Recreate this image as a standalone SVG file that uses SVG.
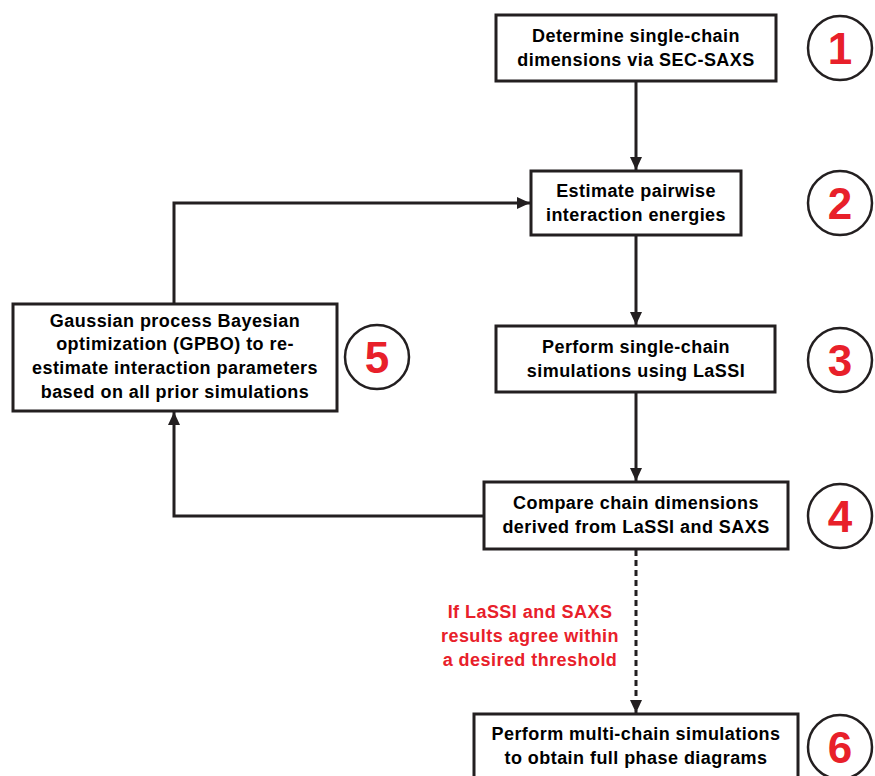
<svg xmlns="http://www.w3.org/2000/svg" width="875" height="776" viewBox="0 0 875 776">
<style>
.box{fill:#fff;stroke:#231f20;stroke-width:3}
.t{font-family:"Liberation Sans",Arial,sans-serif;font-weight:bold;font-size:18px;letter-spacing:0.45px;fill:#000;text-anchor:middle}
.red{fill:#e8202a}
.num{font-family:"Liberation Sans",Arial,sans-serif;font-weight:bold;font-size:44px;fill:#e8202a;text-anchor:middle}
.circ{fill:#fff;stroke:#231f20;stroke-width:2.5}
.ln{fill:none;stroke:#231f20;stroke-width:3}
</style>
<defs>
<marker id="ah" markerWidth="14" markerHeight="12" refX="13" refY="6" orient="auto" markerUnits="userSpaceOnUse">
<path d="M0,0 L13,6 L0,12 Z" fill="#231f20"/>
</marker>
</defs>
<g id="connectors">
<line class="ln" x1="636" y1="81" x2="636" y2="170" marker-end="url(#ah)"/>
<line class="ln" x1="636" y1="235" x2="636" y2="325" marker-end="url(#ah)"/>
<line class="ln" x1="636" y1="392" x2="636" y2="481" marker-end="url(#ah)"/>
<polyline class="ln" points="483,516 174,516 174,412" marker-end="url(#ah)"/>
<polyline class="ln" points="174,304 174,203 530,203" marker-end="url(#ah)"/>
<line class="ln" x1="636" y1="550" x2="636" y2="713" stroke-dasharray="6,4" marker-end="url(#ah)"/>
</g>
<g id="node1">
<rect class="box" x="496" y="15" width="280" height="66"/>
<text class="t" x="636" y="42">Determine single-chain</text>
<text class="t" x="636" y="66">dimensions via SEC-SAXS</text>
</g>
<g id="node2">
<rect class="box" x="531" y="171" width="210" height="64"/>
<text class="t" x="636" y="197">Estimate pairwise</text>
<text class="t" x="636" y="221">interaction energies</text>
</g>
<g id="node3">
<rect class="box" x="496" y="326" width="279" height="66"/>
<text class="t" x="636" y="353">Perform single-chain</text>
<text class="t" x="636" y="377">simulations using LaSSI</text>
</g>
<g id="node4">
<rect class="box" x="484" y="482" width="304" height="67"/>
<text class="t" x="636" y="509">Compare chain dimensions</text>
<text class="t" x="636" y="533">derived from LaSSI and SAXS</text>
</g>
<g id="node5">
<rect class="box" x="13" y="304" width="324" height="107"/>
<text class="t" x="175" y="327">Gaussian process Bayesian</text>
<text class="t" x="175" y="350">optimization (GPBO) to re-</text>
<text class="t" x="175" y="374">estimate interaction parameters</text>
<text class="t" x="175" y="398">based on all prior simulations</text>
</g>
<g id="node6">
<rect class="box" x="474" y="714" width="324" height="70"/>
<text class="t" x="636" y="740">Perform multi-chain simulations</text>
<text class="t" x="636" y="764">to obtain full phase diagrams</text>
</g>
<g id="label">
<text class="t red" x="530" y="618">If LaSSI and SAXS</text>
<text class="t red" x="530" y="642">results agree within</text>
<text class="t red" x="530" y="666">a desired threshold</text>
</g>
<g id="badge1"><circle class="circ" cx="840" cy="48" r="32"/><text class="num" x="840" y="64">1</text></g>
<g id="badge2"><circle class="circ" cx="840" cy="203" r="32"/><text class="num" x="840" y="219">2</text></g>
<g id="badge3"><circle class="circ" cx="840" cy="360" r="32"/><text class="num" x="840" y="376">3</text></g>
<g id="badge4"><circle class="circ" cx="840" cy="516" r="32"/><text class="num" x="840" y="532">4</text></g>
<g id="badge5"><circle class="circ" cx="377" cy="357" r="32"/><text class="num" x="377" y="373">5</text></g>
<g id="badge6"><circle class="circ" cx="840" cy="747" r="32"/><text class="num" x="840" y="763">6</text></g>
</svg>
